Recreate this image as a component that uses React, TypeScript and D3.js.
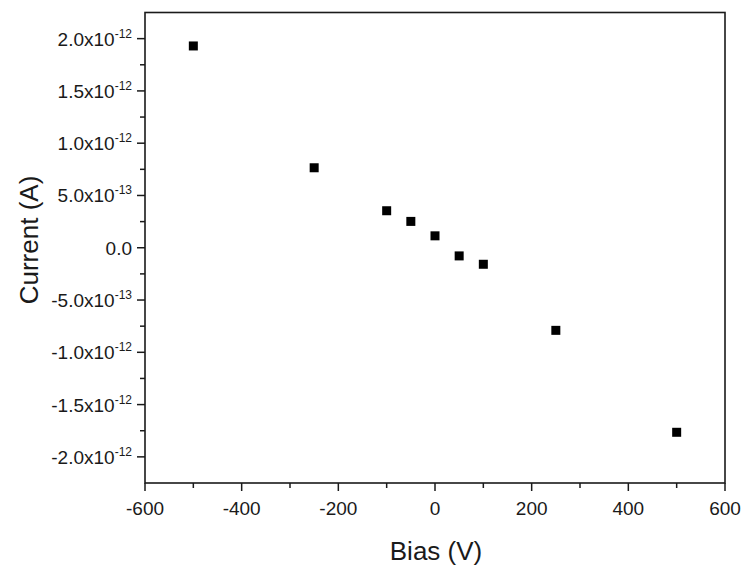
import React from "react";
import * as d3 from "d3";

const biasValues = [-500, -250, -100, -50, 0, 50, 100, 250, 500];
const currentValues = [1.93e-12, 0.765e-12, 0.354e-12, 0.252e-12, 0.114e-12, -0.078e-12, -0.158e-12, -0.79e-12, -1.765e-12];

const xTickValues = [-600, -400, -200, 0, 200, 400, 600];
const xTickLabels = ["-600", "-400", "-200", "0", "200", "400", "600"];
const xMinorValues = [-500, -300, -100, 100, 300, 500];

const yTickValues = [2e-12, 1.5e-12, 1e-12, 0.5e-12, 0, -0.5e-12, -1e-12, -1.5e-12, -2e-12];
const yTickMantissa = ["2.0", "1.5", "1.0", "5.0", "0.0", "-5.0", "-1.0", "-1.5", "-2.0"];
const yTickExponent = ["-12", "-12", "-12", "-13", "", "-13", "-12", "-12", "-12"];
const yMinorValues = [1.75e-12, 1.25e-12, 0.75e-12, 0.25e-12, -0.25e-12, -0.75e-12, -1.25e-12, -1.75e-12];

const xTitle = "Bias (V)";
const yTitle = "Current (A)";

export default function App() {
  const W = 741, H = 568;
  const left = 145, right = 725, top = 12.5, bottom = 483;
  const x = d3.scaleLinear().domain([-600, 600]).range([left, right]);
  const y = d3.scaleLinear().domain([-2.25e-12, 2.25e-12]).range([bottom, top]);
  const font = "'Liberation Sans', Arial, sans-serif";
  const col = "#1a1a1a";
  const ms = 9;
  return (
    <svg width={W} height={H} style={{ position: "absolute", left: 0, top: 0, background: "#fff" }}>
      <rect x={left} y={top} width={right - left} height={bottom - top} fill="none" stroke={col} strokeWidth={1.6} />
      {xTickValues.map((v) => (
        <line key={"xt" + v} x1={x(v)} x2={x(v)} y1={bottom} y2={bottom + 8} stroke={col} strokeWidth={1.5} />
      ))}
      {xMinorValues.map((v) => (
        <line key={"xm" + v} x1={x(v)} x2={x(v)} y1={bottom} y2={bottom + 5} stroke={col} strokeWidth={1.5} />
      ))}
      {xTickValues.map((v, i) => (
        <text key={"xl" + v} x={x(v)} y={bottom + 32} textAnchor="middle" fontFamily={font} fontSize={19} fill={col}>
          {xTickLabels[i]}
        </text>
      ))}
      {yTickValues.map((v) => (
        <line key={"yt" + v} x1={left - 8} x2={left} y1={y(v)} y2={y(v)} stroke={col} strokeWidth={1.5} />
      ))}
      {yMinorValues.map((v) => (
        <line key={"ym" + v} x1={left - 5} x2={left} y1={y(v)} y2={y(v)} stroke={col} strokeWidth={1.5} />
      ))}
      {yTickValues.map((v, i) => (
        <text key={"yl" + v} x={132} y={y(v) + 7} textAnchor="end" fontFamily={font} fontSize={19} fill={col}>
          {yTickMantissa[i] + (yTickExponent[i] ? "x10" : "")}
          {yTickExponent[i] ? (
            <tspan dy={-8} fontSize={12}>{yTickExponent[i]}</tspan>
          ) : null}
        </text>
      ))}
      {biasValues.map((b, i) => (
        <rect key={"p" + i} x={x(b) - ms / 2} y={y(currentValues[i]) - ms / 2} width={ms} height={ms} fill="#000" />
      ))}
      <text x={(left + right) / 2 + 1} y={560} textAnchor="middle" fontFamily={font} fontSize={26} fill={col}>
        {xTitle}
      </text>
      <text transform={`translate(38, 240) rotate(-90)`} textAnchor="middle" fontFamily={font} fontSize={26} fill={col}>
        {yTitle}
      </text>
    </svg>
  );
}
